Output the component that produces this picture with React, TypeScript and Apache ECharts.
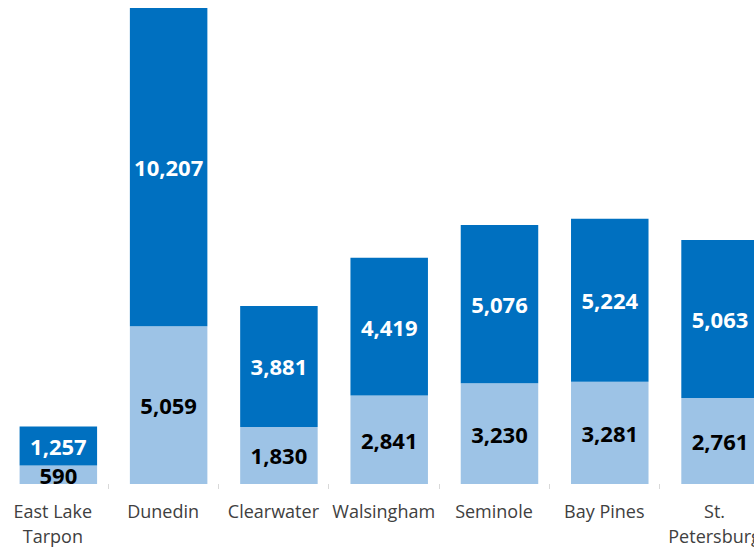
import React, { useEffect, useRef } from "react";
import * as echarts from "echarts";

const categories = [
  "East Lake\nTarpon",
  "Dunedin",
  "Clearwater",
  "Walsingham",
  "Seminole",
  "Bay Pines",
  "St.\nPetersburg",
];
const lowerValues = [590, 5059, 1830, 2841, 3230, 3281, 2761];
const upperValues = [1257, 10207, 3881, 4419, 5076, 5224, 5063];

const fmt = (v: number) => v.toLocaleString("en-US");

export default function App() {
  const ref = useRef<HTMLDivElement>(null);
  useEffect(() => {
    if (!ref.current) return;
    const chart = echarts.init(ref.current, undefined, { renderer: "svg" });
    const maxTotal = Math.max(...lowerValues.map((v, i) => v + upperValues[i]));
    chart.setOption({
      animation: false,
      grid: { left: 7.7, width: 772, top: 8, bottom: 63, containLabel: false },
      xAxis: {
        type: "category",
        data: categories,
        axisLine: { show: false },
        axisTick: { show: true, length: 5, lineStyle: { color: "#D9D9D9" } },
        axisLabel: {
          interval: 0,
          fontFamily: "Open Sans",
          fontSize: 18,
          color: "#404040",
          lineHeight: 25,
          margin: 14,
        },
      },
      yAxis: { type: "value", min: 0, max: maxTotal, show: false, splitLine: { show: false } },
      series: [
        { type: "bar", name: "pad", data: [], barWidth: 11, barGap: "0%", silent: true },
        {
          type: "bar",
          name: "lower",
          stack: "total",
          data: lowerValues,
          barWidth: 77.5,
          barGap: "0%",
          itemStyle: { color: "#9DC3E6" },
          label: {
            show: true,
            position: "inside",
            formatter: (p: any) => fmt(p.value),
            fontFamily: "Open Sans",
            fontWeight: "bold",
            fontSize: 22,
            color: "#000000",
          },
        },
        {
          type: "bar",
          name: "upper",
          stack: "total",
          data: upperValues,
          barWidth: 77.5,
          barGap: "0%",
          itemStyle: { color: "#0070C0" },
          label: {
            show: true,
            position: "inside",
            formatter: (p: any) => fmt(p.value),
            fontFamily: "Open Sans",
            fontWeight: "bold",
            fontSize: 22,
            color: "#FFFFFF",
          },
        },
      ],
    });
    return () => chart.dispose();
  }, []);
  return (
    <div
      style={{
        position: "absolute",
        left: 0,
        top: 0,
        width: 754,
        height: 548,
        overflow: "hidden",
        background: "#fff",
      }}
    >
      <div ref={ref} style={{ position: "absolute", left: -10, top: 0, width: 790, height: 548 }} />
    </div>
  );
}
